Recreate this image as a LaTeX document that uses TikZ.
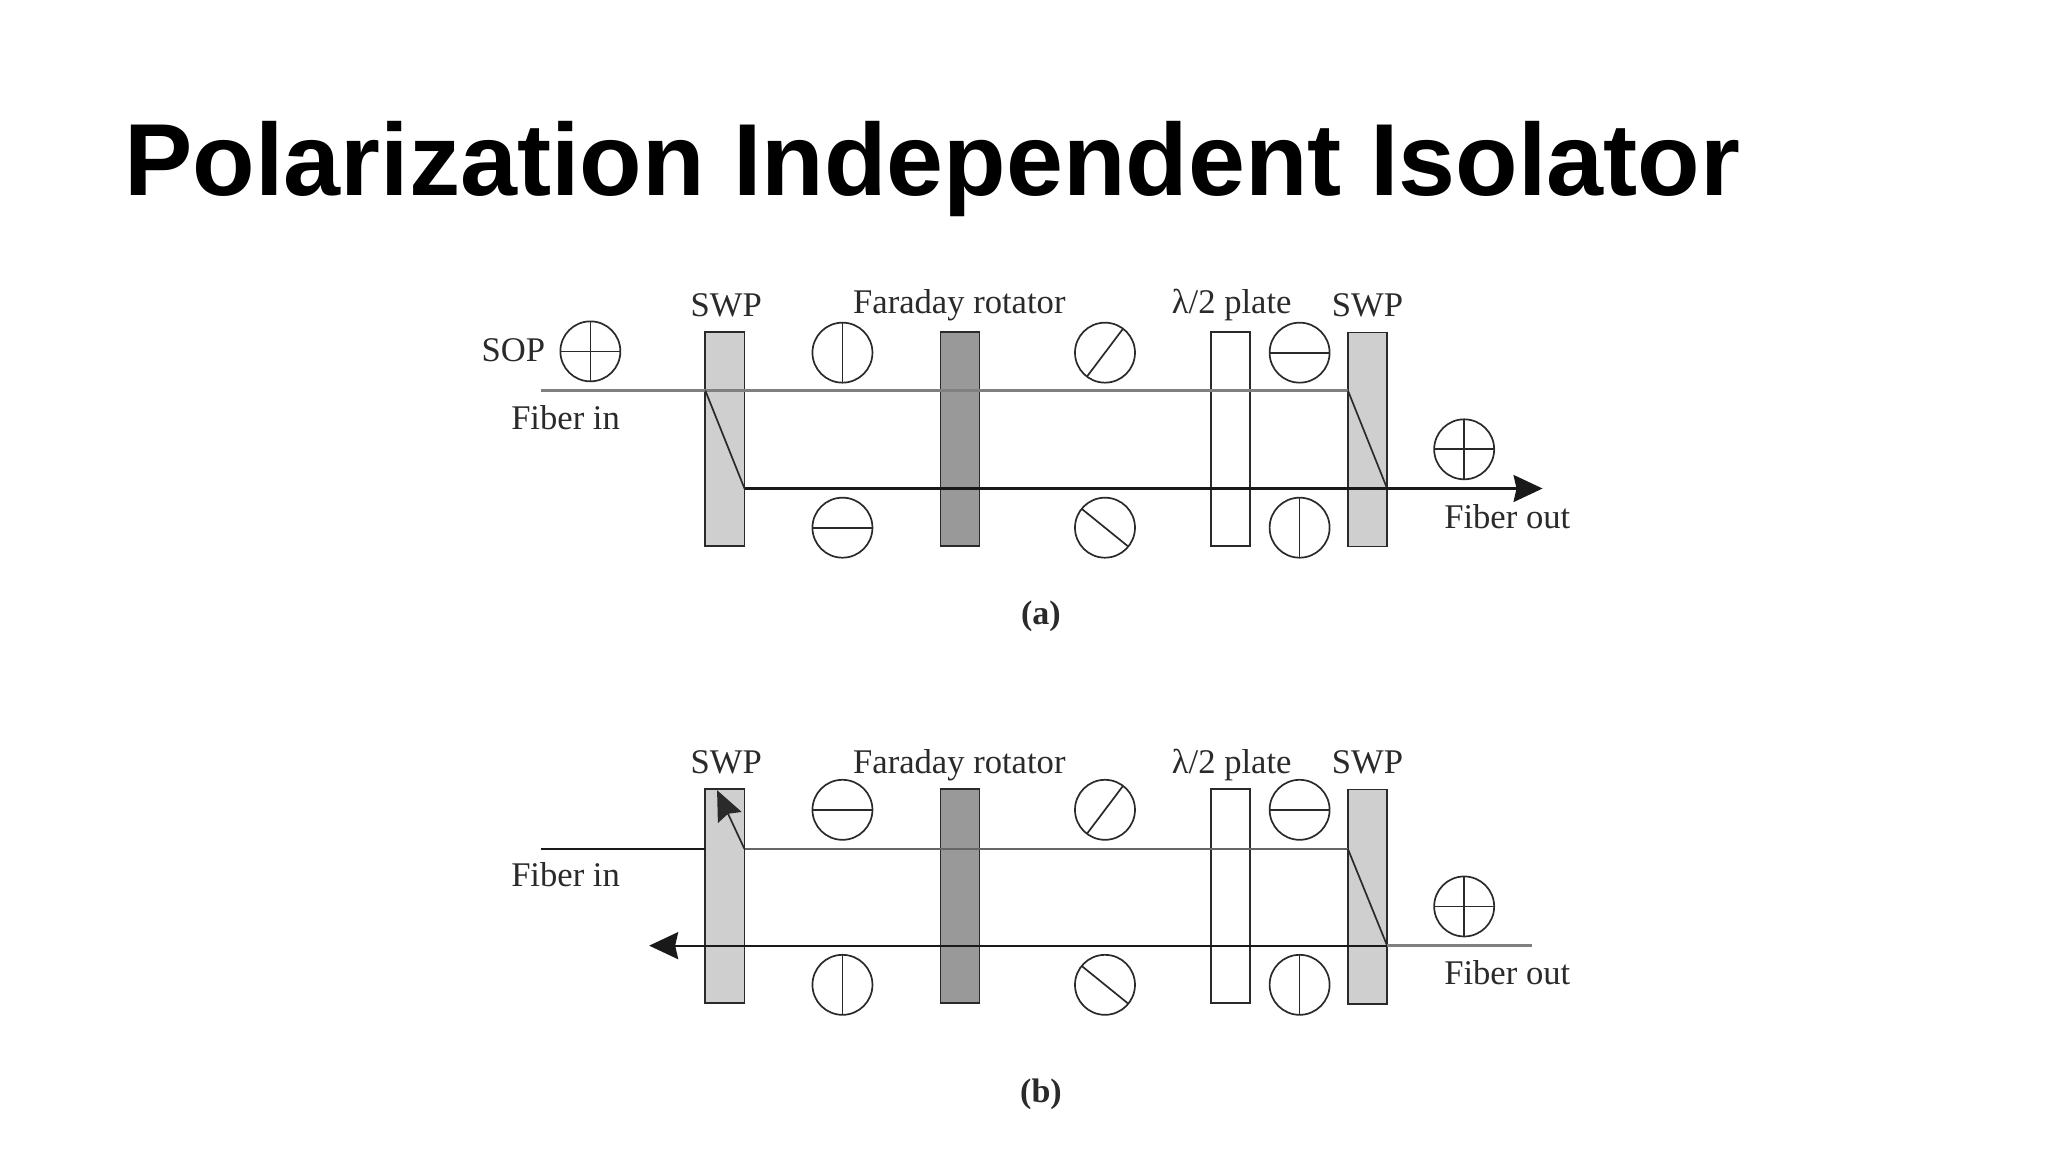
\documentclass[tikz,border=0pt]{standalone}
\usepackage{fontspec}
\setmainfont{Liberation Serif}
\newfontfamily\titlefont{Liberation Sans}
\usetikzlibrary{arrows.meta}
\definecolor{ink}{HTML}{2A2A2A}
\tikzset{
  plate/.style={draw=ink,line width=0.85pt,minimum width=19.6pt,minimum height=107.1pt,inner sep=0pt,outer sep=0pt},
  swp/.style={plate,fill=black!19},
  far/.style={plate,fill=black!40},
  hwp/.style={plate,fill=white},
  pol/.style={circle,draw=ink,line width=0.85pt,minimum size=30pt,inner sep=0pt,outer sep=0pt},
  lab/.style={text=ink,font=\fontsize{17.3pt}{19pt}\selectfont,inner sep=0pt},
  tag/.style={lab,font=\bfseries\fontsize{17pt}{19pt}\selectfont},
  beamk/.style={draw=black!90,line width=1.1pt},
  beamg/.style={draw=black!50,line width=1.5pt},
  thin ray/.style={draw=ink,line width=0.85pt},
  big tip/.style={-{Stealth[length=14.5pt,width=13.5pt,inset=1.5pt]}}
}
\newcommand{\polH}[2]{\node[pol] (#1) at (#2) {};\draw[thin ray] (#1.west)--(#1.east);}
\newcommand{\polV}[2]{\node[pol] (#1) at (#2) {};\draw[thin ray] (#1.north)--(#1.south);}
\newcommand{\polX}[2]{\node[pol] (#1) at (#2) {};\draw[thin ray] (#1.west)--(#1.east) (#1.north)--(#1.south);}
\newcommand{\polD}[2]{\node[pol] (#1) at (#2) {};\draw[thin ray] (#1.53)--(#1.233);}
\newcommand{\polA}[2]{\node[pol] (#1) at (#2) {};\draw[thin ray] (#1.141)--(#1.321);}
\begin{document}
\begin{tikzpicture}[x=0.65306pt,y=-0.65306pt]
\useasboundingbox (0,0) rectangle (1568,882);
\fill[white] (0,0) rectangle (1568,882);
\node[anchor=base west,inner sep=0pt,font=\titlefont\bfseries\fontsize{51.2pt}{60pt}\selectfont] (title) at (95,150) {Polarization Independent Isolator};

% panel (a)
\node[swp] (a1) at (555,336) {};
\node[far] (a2) at (735,336) {};
\node[hwp] (a3) at (942,336) {};
\node[swp] (a4) at (1047,336.5) {};
\coordinate (ain) at (414,299);
\coordinate (a1t) at (540,299);
\coordinate (a1b) at (570,374);
\coordinate (a4t) at (1032,299);
\coordinate (a4b) at (1062,374);
\coordinate (aout) at (1181,374);
\draw[beamg] (ain)--(a4t);
\draw[thin ray] (a1t)--(a1b);
\draw[thin ray] (a4t)--(a4b);
\draw[beamk,big tip] (a1b)--(aout);
\polX{as}{452,269}
\polV{at1}{645,270}
\polD{at2}{846,270}
\polH{at3}{995,270}
\polH{ab1}{645,404}
\polA{ab2}{846,404}
\polV{ab3}{995,404}
\polX{ae}{1121,344}
\node[lab,anchor=base] (la1) at (556,242) {SWP};
\node[lab,anchor=base] (la2) at (734.5,240) {Faraday rotator};
\node[lab,anchor=base] (la3) at (943,240) {λ/2 plate};
\node[lab,anchor=base] (la4) at (1047,242) {SWP};
\node[lab,anchor=base] (la5) at (393,277) {SOP};
\node[lab,anchor=base] (la6) at (433,329) {Fiber in};
\node[lab,anchor=base] (la7) at (1154,405) {Fiber out};
\node[tag,anchor=base] (la8) at (797,478) {(a)};

% panel (b)
\node[swp] (b1) at (555,686) {};
\node[far] (b2) at (735,686) {};
\node[hwp] (b3) at (942,686) {};
\node[swp] (b4) at (1047,686.5) {};
\coordinate (bin) at (414,650);
\coordinate (b1l) at (540,650);
\coordinate (b1r) at (570,650);
\coordinate (b1u) at (549,605);
\coordinate (b4t) at (1032,650);
\coordinate (b4b) at (1062,724);
\coordinate (bend) at (1173,724);
\coordinate (bout) at (497,724);
\draw[beamk] (bin)--(b1l);
\draw[beamg,draw=black!60,line width=1.2pt] (b1r)--(b4t);
\draw[thin ray] (b4t)--(b4b);
\draw[beamg] (b4b)--(bend);
\draw[beamk,big tip] (b4b)--(bout);
\draw[thin ray,-{Stealth[length=15pt,width=13pt,inset=2pt]}] (b1r)--(b1u);
\polH{bt1}{645,620}
\polD{bt2}{846,620}
\polH{bt3}{995,620}
\polV{bb1}{645,754}
\polA{bb2}{846,754}
\polV{bb3}{995,754}
\polX{be}{1121,694}
\node[lab,anchor=base] (lb1) at (556,592) {SWP};
\node[lab,anchor=base] (lb2) at (734.5,592) {Faraday rotator};
\node[lab,anchor=base] (lb3) at (943,592) {λ/2 plate};
\node[lab,anchor=base] (lb4) at (1047,592) {SWP};
\node[lab,anchor=base] (lb6) at (433,679) {Fiber in};
\node[lab,anchor=base] (lb7) at (1154,754) {Fiber out};
\node[tag,anchor=base] (lb8) at (797,844) {(b)};
\end{tikzpicture}
\end{document}
